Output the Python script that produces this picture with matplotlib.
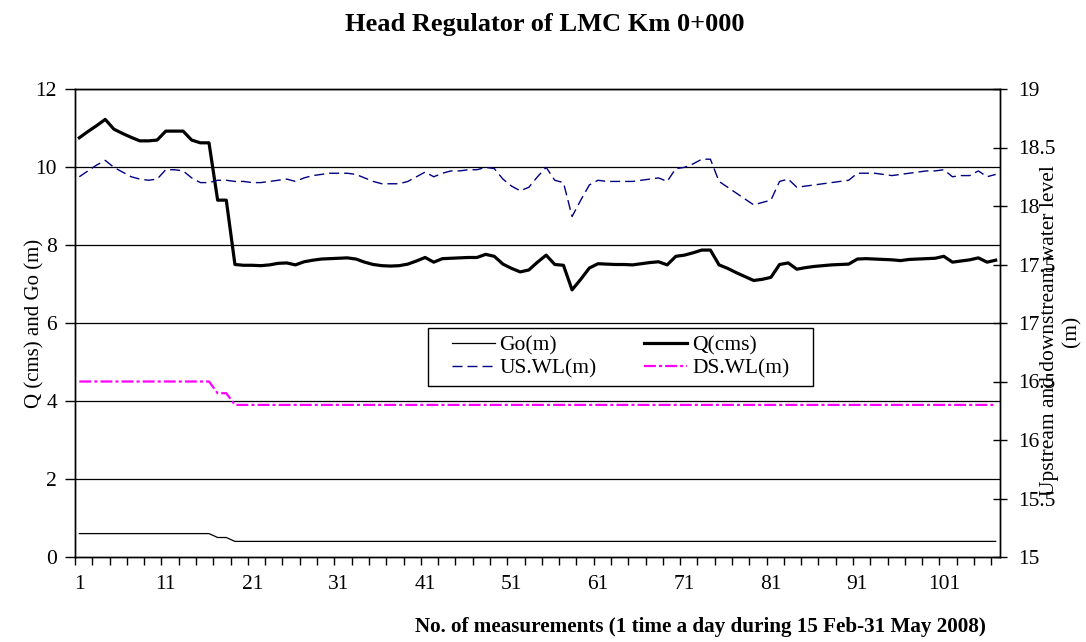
#!/usr/bin/env python3
import numpy as np
import matplotlib
matplotlib.use("Agg")
import matplotlib.pyplot as plt
from matplotlib.patches import Rectangle

plt.rcParams["font.family"] = ["Liberation Serif", "DejaVu Serif"]
plt.rcParams["lines.scale_dashes"] = False

# daily measurements 1..107 (15 Feb - 31 May 2008)
day = np.arange(1, 108)

q_cms = [
    10.75, 10.91, 11.06, 11.22, 10.97, 10.86, 10.76, 10.67, 10.67, 10.69,
    10.92, 10.92, 10.92, 10.69, 10.62, 10.62, 9.15, 9.15, 7.50, 7.48,
    7.48, 7.47, 7.49, 7.53, 7.54, 7.49, 7.57, 7.61, 7.64, 7.65,
    7.66, 7.67, 7.64, 7.56, 7.50, 7.47, 7.46, 7.47, 7.51, 7.59,
    7.68, 7.56, 7.65, 7.66, 7.67, 7.68, 7.68, 7.76, 7.71, 7.51,
    7.40, 7.31, 7.36, 7.56, 7.74, 7.50, 7.48, 6.85, 7.12, 7.41,
    7.52, 7.51, 7.50, 7.50, 7.49, 7.52, 7.55, 7.57, 7.49, 7.71,
    7.74, 7.80, 7.87, 7.87, 7.49, 7.40, 7.29, 7.19, 7.09, 7.12,
    7.17, 7.50, 7.54, 7.38, 7.42, 7.45, 7.47, 7.49, 7.50, 7.51,
    7.64, 7.65, 7.64, 7.63, 7.62, 7.60, 7.63, 7.64, 7.65, 7.66,
    7.71, 7.56, 7.59, 7.62, 7.67, 7.56, 7.61,
]

go_m = [
    0.6, 0.6, 0.6, 0.6, 0.6, 0.6, 0.6, 0.6, 0.6, 0.6,
    0.6, 0.6, 0.6, 0.6, 0.6, 0.6, 0.5, 0.5, 0.4, 0.4,
    0.4, 0.4, 0.4, 0.4, 0.4, 0.4, 0.4, 0.4, 0.4, 0.4,
    0.4, 0.4, 0.4, 0.4, 0.4, 0.4, 0.4, 0.4, 0.4, 0.4,
    0.4, 0.4, 0.4, 0.4, 0.4, 0.4, 0.4, 0.4, 0.4, 0.4,
    0.4, 0.4, 0.4, 0.4, 0.4, 0.4, 0.4, 0.4, 0.4, 0.4,
    0.4, 0.4, 0.4, 0.4, 0.4, 0.4, 0.4, 0.4, 0.4, 0.4,
    0.4, 0.4, 0.4, 0.4, 0.4, 0.4, 0.4, 0.4, 0.4, 0.4,
    0.4, 0.4, 0.4, 0.4, 0.4, 0.4, 0.4, 0.4, 0.4, 0.4,
    0.4, 0.4, 0.4, 0.4, 0.4, 0.4, 0.4, 0.4, 0.4, 0.4,
    0.4, 0.4, 0.4, 0.4, 0.4, 0.4, 0.4,
]

us_wl = [
    18.25, 18.30, 18.35, 18.39, 18.33, 18.29, 18.25, 18.23, 18.22, 18.23,
    18.31, 18.31, 18.30, 18.24, 18.20, 18.20, 18.22, 18.22, 18.21, 18.21,
    18.20, 18.20, 18.21, 18.22, 18.23, 18.21, 18.24, 18.26, 18.27, 18.28,
    18.28, 18.28, 18.27, 18.24, 18.21, 18.19, 18.19, 18.19, 18.21, 18.25,
    18.29, 18.25, 18.28, 18.30, 18.30, 18.31, 18.31, 18.33, 18.32, 18.23,
    18.17, 18.13, 18.16, 18.25, 18.33, 18.22, 18.20, 17.91, 18.05, 18.18,
    18.22, 18.21, 18.21, 18.21, 18.21, 18.22, 18.23, 18.24, 18.21, 18.32,
    18.33, 18.36, 18.40, 18.40, 18.21, 18.16, 18.11, 18.06, 18.01, 18.03,
    18.05, 18.21, 18.23, 18.16, 18.17, 18.18, 18.19, 18.20, 18.21, 18.22,
    18.28, 18.28, 18.28, 18.27, 18.26, 18.27, 18.28, 18.29, 18.30, 18.30,
    18.31, 18.25, 18.26, 18.26, 18.30, 18.25, 18.27,
]

ds_wl = [
    16.5, 16.5, 16.5, 16.5, 16.5, 16.5, 16.5, 16.5, 16.5, 16.5,
    16.5, 16.5, 16.5, 16.5, 16.5, 16.5, 16.4, 16.4, 16.3, 16.3,
    16.3, 16.3, 16.3, 16.3, 16.3, 16.3, 16.3, 16.3, 16.3, 16.3,
    16.3, 16.3, 16.3, 16.3, 16.3, 16.3, 16.3, 16.3, 16.3, 16.3,
    16.3, 16.3, 16.3, 16.3, 16.3, 16.3, 16.3, 16.3, 16.3, 16.3,
    16.3, 16.3, 16.3, 16.3, 16.3, 16.3, 16.3, 16.3, 16.3, 16.3,
    16.3, 16.3, 16.3, 16.3, 16.3, 16.3, 16.3, 16.3, 16.3, 16.3,
    16.3, 16.3, 16.3, 16.3, 16.3, 16.3, 16.3, 16.3, 16.3, 16.3,
    16.3, 16.3, 16.3, 16.3, 16.3, 16.3, 16.3, 16.3, 16.3, 16.3,
    16.3, 16.3, 16.3, 16.3, 16.3, 16.3, 16.3, 16.3, 16.3, 16.3,
    16.3, 16.3, 16.3, 16.3, 16.3, 16.3, 16.3,
]

x_labels = [1, 11, 21, 31, 41, 51, 61, 71, 81, 91, 101]
left_ticks = [0, 2, 4, 6, 8, 10, 12]
right_ticks = [15, 15.5, 16, 16.5, 17, 17.5, 18, 18.5, 19]

fs = 15.5
W, H = 1086, 642
fig = plt.figure(figsize=(W / 100, H / 100), dpi=100)
ax = fig.add_axes([75 / W, 1 - 557 / H, (1000 - 75) / W, (557 - 89) / H])
ax2 = ax.twinx()

# left axis: Go and Q
l_go, = ax.plot(day, go_m, color="black", lw=0.9, label="Go(m)")
l_q, = ax.plot(day, q_cms, color="black", lw=2.3, label="Q(cms)")
# right axis: water levels
l_us, = ax2.plot(day, us_wl, color="#000080", lw=1.0, dashes=(7.2, 3.6), label="US.WL(m)")
l_ds, = ax2.plot(day, ds_wl, color="#FF00FF", lw=1.6, dashes=(8.6, 2.2, 2.2, 2.2), label="DS.WL(m)")

ax.set_xlim(0.5, len(day) + 0.5)
ax.set_ylim(0, 12)
ax2.set_ylim(15, 19)

for y in left_ticks[1:]:
    ax.axhline(y, color="black", lw=0.9, zorder=0)

ax.set_yticks(left_ticks)
ax.set_yticklabels([str(v) for v in left_ticks], fontsize=fs)
ax.tick_params(axis="y", direction="out", length=7, width=1, pad=6)

ax2.set_yticks(right_ticks)
ax2.set_yticklabels([f"{v:g}" for v in right_ticks], fontsize=fs)
ax2.tick_params(axis="y", direction="inout", length=10, width=1, pad=8)

# category style x axis: marks every 2 days, labels every 10
ax.set_xticks(np.arange(0.5, len(day) + 0.6, 2), minor=True)
ax.set_xticks(x_labels)
ax.set_xticklabels([str(v) for v in x_labels], fontsize=fs)
ax.tick_params(axis="x", which="major", length=0, pad=13)
ax.tick_params(axis="x", which="minor", direction="out", length=6, width=1)

for a in (ax, ax2):
    for s in a.spines.values():
        s.set_linewidth(1.0)
        s.set_color("black")

fig.text(545 / W, 1 - 24 / H, "Head Regulator of LMC Km 0+000",
         ha="center", va="center", fontsize=19, fontweight="bold")
fig.text(35 / W, 1 - 323 / H, "Q (cms) and Go (m)", rotation=90,
         ha="center", va="center", fontsize=15)
fig.text(1061 / W, 1 - 331 / H, "Upstream and downstream water level\n(m)",
         rotation=90, ha="center", va="center", fontsize=fs,
         multialignment="center", linespacing=1.2)
fig.text(700 / W, 1 - 627 / H,
         "No. of measurements (1 time a day during 15 Feb-31 May 2008)",
         ha="center", va="center", fontsize=15.2, fontweight="bold")

# legend box drawn separately so it can be wider than the entries
box = Rectangle((428 / W, 1 - 386 / H), (813 - 428) / W, (386 - 328) / H,
                transform=fig.transFigure, facecolor="white", edgecolor="black",
                lw=1.0, zorder=5)
fig.patches.append(box)
leg = fig.legend([l_go, l_us, l_q, l_ds], ["Go(m)", "US.WL(m)", "Q(cms)", "DS.WL(m)"],
                 ncol=2, loc="center", bbox_to_anchor=(620.5 / W, 1 - 357 / H),
                 fontsize=fs, frameon=False, handlelength=2.0,
                 columnspacing=2.2, handletextpad=0.22, borderpad=0.1,
                 labelspacing=0.15)
leg.set_zorder(6)

fig.savefig("out.png", dpi=100)
